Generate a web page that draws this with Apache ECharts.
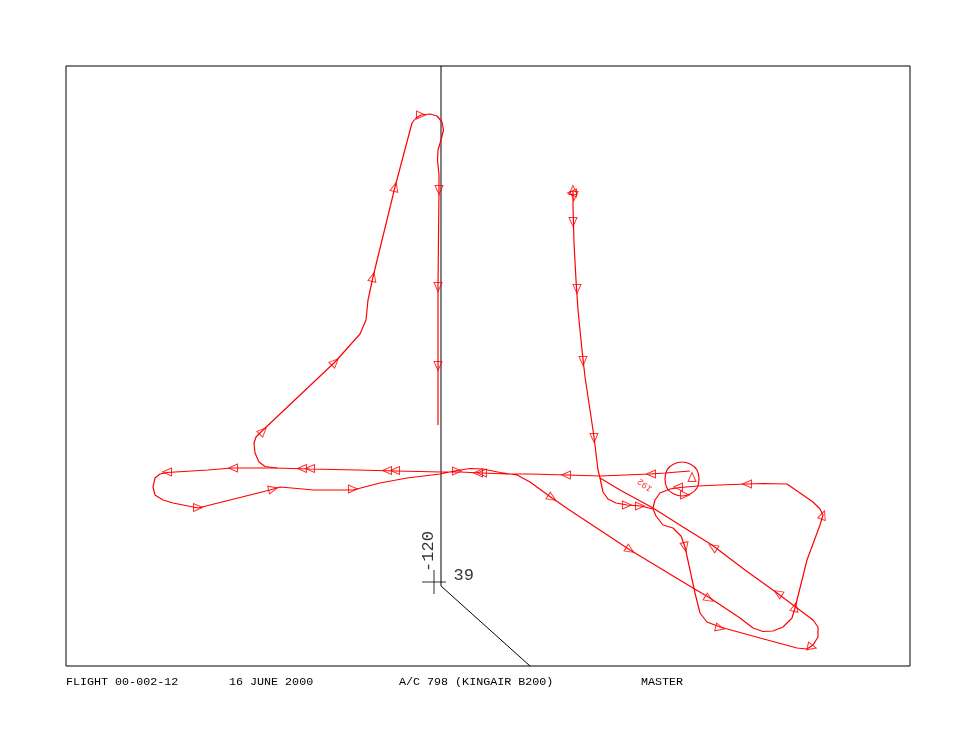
<!DOCTYPE html>
<html>
<head>
<meta charset="utf-8">
<script src="https://cdn.jsdelivr.net/npm/echarts@6/dist/echarts.min.js"></script>
<style>
  html, body { margin: 0; padding: 0; background: #fff; }
  #chart { width: 976px; height: 754px; }
</style>
</head>
<body>
<div id="chart"></div>
<script>
// track units: east / north of the -120 / 39 reference point
const trackSouth = [
  [139, 390], [139, 377], [140, 339], [142, 302], [144, 272], [148, 232], [151, 205],
  [156, 172], [160, 145], [164, 112], [166, 104], [169, 90], [174, 83], [182, 79],
  [193, 77], [207, 76], [219, 73]
]
const trackLoopB = [
  [219, 73], [222, 66], [229, 57], [239, 54], [247, 46], [251, 35], [256, 12], [261, -11],
  [266, -31], [273, -40], [286, -45], [326, -56], [363, -66], [373, -67], [379, -63],
  [384, -55], [384, -45], [379, -38], [363, -26], [343, -11], [311, 12], [278, 37],
  [249, 55], [219, 74], [186, 92], [166, 104]
]
const trackWest = [
  [256, 111], [231, 109], [216, 108], [166, 106], [133, 107], [96, 108], [73, 108],
  [48, 109], [26, 110], [6, 110], [-14, 110.5], [-38, 111], [-77, 112], [-124, 113],
  [-159, 114], [-202, 114], [-226, 112], [-267, 109.5], [-274, 108], [-279, 104],
  [-281, 95], [-279, 87], [-271, 82], [-261, 79], [-236, 74], [-164, 92], [-154, 95],
  [-131, 93], [-121, 92], [-81, 92], [-54, 99], [-27, 104], [6, 108], [23, 111.5],
  [36, 113.5], [49, 113], [66, 109.5], [83, 107], [96, 100], [118, 84], [134, 73],
  [196, 32], [259, -6], [276, -16], [306, -36], [319, -46], [329, -49.5], [339, -49],
  [349, -45], [358, -36], [361, -26], [373, 22], [386, 57], [389, 67], [386, 73],
  [379, 80], [366, 89], [353, 98], [329, 98.5], [313, 98], [286, 97], [264, 96],
  [246, 94.5], [236, 93], [226, 89], [221, 82], [219, 74]
]
const trackOrbit = [
  [265, 103], [263, 112], [256, 118], [248, 120], [240, 118], [233, 112], [231, 103],
  [233, 94], [240, 88], [248, 86], [256, 88], [263, 94], [265, 103]
]
const trackNorth = [
  [-157, 114], [-169, 115.5], [-175, 120], [-179, 129], [-180, 139], [-178, 145],
  [-172, 151], [-99, 220], [-74, 248], [-68, 262], [-66, 282], [-61, 305], [-39, 395],
  [-22, 459], [-18, 464], [-13, 467], [-4, 468], [3, 466], [8, 460], [9.5, 452],
  [7, 442], [4, 432], [3.5, 422], [5, 407], [5, 392], [4, 295], [4, 215], [4, 157]
]
// heading arrows: east, north, rotation (deg, ccw from north)
const arrows = [
  [-267, 110, 90], [-201, 114, 90], [-132, 113.5, 90], [-124, 113.5, 90],
  [-47, 111.5, 90], [-39, 111.5, 90], [23, 111, -90], [44, 109, 90], [48, 109, 90],
  [-236, 74.5, -90], [-161, 93, -76], [-81, 93, -90],
  [-171, 151, -45], [-99, 220, -45], [-61, 305, -14], [-39, 395, -14], [-13, 467, -90],
  [5, 392, 180], [4, 295, 180], [4, 216, 180],
  [139, 392, 0], [140, 386, 180], [138, 389, 90],
  [139, 360, 180], [143, 293, 180], [149, 221, 180], [160, 144, 180],
  [132, 107, 90], [217, 108, 90],
  [118, 84, -122], [193, 77, -90], [206, 76, -90], [196, 32, -122], [275, -17, -122],
  [286, -46, -104], [378, -65, -104], [361, -25, -14], [344, -11, 58], [279, 35, 58],
  [251, 35, 192], [389, 67, -20], [313, 98, 90], [244, 95, 90], [251, 87, -90],
  [258, 105, 0]
]
const refLine = [[7, 516], [7, -4], [96, -84]]
const refPoint = [0, 0]
const refLon = '-120'
const refLat = '39'
const timeMarks = [{ name: '192', value: [211, 97] }]
const footer = [
  { text: 'FLIGHT 00-002-12', x: 66 },
  { text: '16 JUNE 2000', x: 229 },
  { text: 'A/C 798 (KINGAIR B200)', x: 399 },
  { text: 'MASTER', x: 641 }
]

const chart = echarts.init(document.getElementById('chart'))

const trackLine = (data, smooth) => ({
  type: 'line',
  data,
  smooth: smooth || false,
  showSymbol: false,
  silent: true,
  z: 3,
  lineStyle: { color: '#ff0000', width: 1.2 }
})

chart.setOption({
  animation: false,
  backgroundColor: '#fff',
  grid: {
    left: 66,
    top: 66,
    width: 844,
    height: 600,
    show: true,
    borderColor: '#000',
    borderWidth: 1
  },
  xAxis: { type: 'value', min: -368, max: 476, show: false },
  yAxis: { type: 'value', min: -84, max: 516, show: false },
  graphic: footer.map(f => ({
    type: 'text',
    x: f.x,
    y: 681.5,
    style: {
      text: f.text,
      fill: '#000',
      font: '11.7px "Liberation Mono"',
      verticalAlign: 'middle'
    }
  })),
  series: [
    {
      type: 'line',
      data: refLine,
      showSymbol: false,
      silent: true,
      lineStyle: { color: '#000', width: 1 }
    },
    trackLine(trackSouth),
    trackLine(trackLoopB),
    trackLine(trackWest),
    trackLine(trackOrbit, true),
    trackLine(trackNorth),
    {
      type: 'scatter',
      data: arrows.map(a => ({ value: [a[0], a[1]], symbolRotate: a[2] })),
      symbol: 'triangle',
      symbolSize: [8, 9],
      silent: true,
      z: 4,
      itemStyle: { color: 'rgba(0,0,0,0)', borderColor: '#ff0000', borderWidth: 1 }
    },
    {
      type: 'scatter',
      data: [refPoint],
      symbol: 'path://M0,12H24M12,0V24',
      symbolSize: 24,
      silent: true,
      z: 5,
      itemStyle: { color: 'none', borderColor: '#000', borderWidth: 1 },
      label: {
        show: true,
        formatter: refLat,
        position: [34, 7.5],
        align: 'left',
        verticalAlign: 'middle',
        color: '#000',
        fontFamily: 'Liberation Mono',
        fontSize: 17
      }
    },
    {
      type: 'scatter',
      data: [refPoint],
      symbolSize: 24,
      silent: true,
      z: 5,
      itemStyle: { color: 'rgba(0,0,0,0)' },
      label: {
        show: true,
        formatter: refLon,
        position: [6.5, -18.5],
        rotate: 90,
        align: 'center',
        verticalAlign: 'middle',
        color: '#000',
        fontFamily: 'Liberation Mono',
        fontSize: 17
      }
    },
    {
      type: 'scatter',
      data: timeMarks,
      symbolSize: 1,
      silent: true,
      itemStyle: { color: 'rgba(0,0,0,0)' },
      label: {
        show: true,
        formatter: p => p.name,
        position: 'inside',
        rotate: 142,
        color: '#ff0000',
        fontFamily: 'Liberation Mono',
        fontSize: 9
      }
    }
  ]
})
</script>
</body>
</html>
